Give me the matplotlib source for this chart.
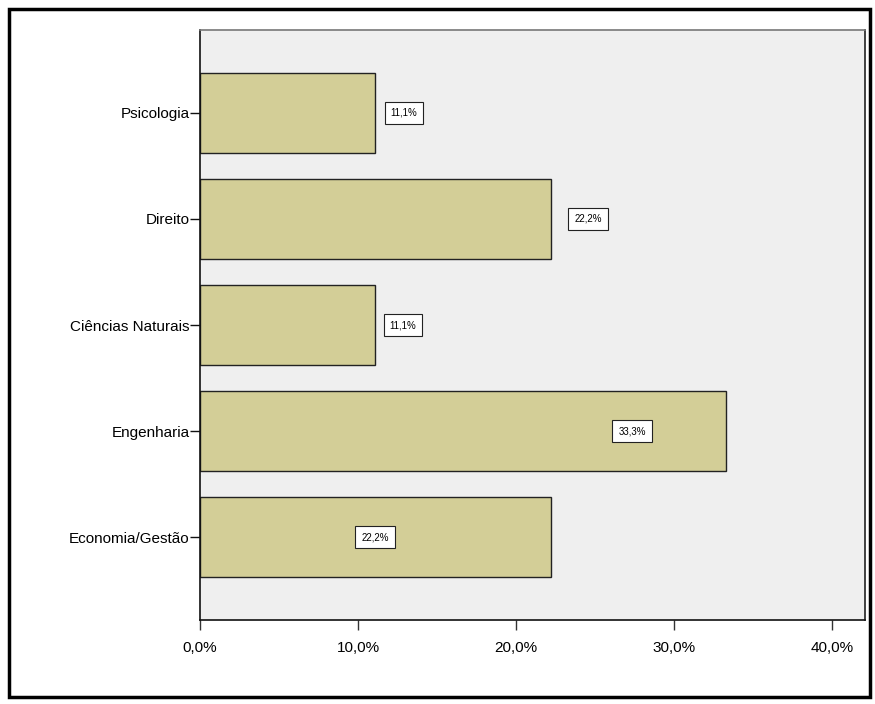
import matplotlib
matplotlib.use("Agg")
import matplotlib.pyplot as plt
from matplotlib.patches import Rectangle
from matplotlib.ticker import FuncFormatter

plt.rcParams['font.family'] = ['Liberation Sans', 'DejaVu Sans']

# Course areas, bottom to top
categories = ["Economia/Gestão", "Engenharia", "Ciências Naturais", "Direito", "Psicologia"]
percentages = [22.2, 33.3, 11.1, 22.2, 11.1]
# horizontal placement of the value labels (in percent units)
label_x = [11.08, 27.34, 12.85, 24.56, 12.9]
xticks = [0, 10, 20, 30, 40]

fig = plt.figure(figsize=(8.75, 7.04), dpi=100)
ax = fig.add_axes([200 / 875, 1 - 620 / 704, 665 / 875, 590 / 704])

ax.set_facecolor("#efefef")
ypos = list(range(len(categories)))
ax.barh(ypos, percentages, height=0.75, color="#d3ce97",
        edgecolor="#222222", linewidth=1.0, zorder=2)

for y, v, lx in zip(ypos, percentages, label_x):
    ax.text(lx, y, f"{v:.1f}%".replace(".", ","), fontsize=7,
            ha="center", va="center", zorder=3,
            bbox=dict(boxstyle="square,pad=0.6", fc="white", ec="#222222", lw=0.8))

ax.set_xlim(0, 42.09)
ax.set_ylim(-0.78, len(categories) - 1 + 0.78)
ax.set_yticks(ypos)
ax.set_yticklabels(categories, fontsize=11)
ax.set_xticks(xticks)
ax.xaxis.set_major_formatter(FuncFormatter(lambda v, p: f"{v:.1f}%".replace(".", ",")))
ax.tick_params(axis="x", length=7.2, width=1, color="#333333", labelsize=11, pad=8)
ax.tick_params(axis="y", length=7.5, width=1, color="#111111", pad=0)

ax.spines["left"].set_color("#111111")
ax.spines["bottom"].set_color("#111111")
ax.spines["top"].set_color("#777777")
ax.spines["right"].set_color("#222222")
for s in ax.spines.values():
    s.set_linewidth(1.2)

# outer frame around the whole chart
fig.patches.append(Rectangle((9 / 875, 1 - 697 / 704), 861 / 875, 688 / 704,
                             transform=fig.transFigure, fill=False,
                             ec="black", lw=2.5))

fig.savefig("out.png", dpi=100)
